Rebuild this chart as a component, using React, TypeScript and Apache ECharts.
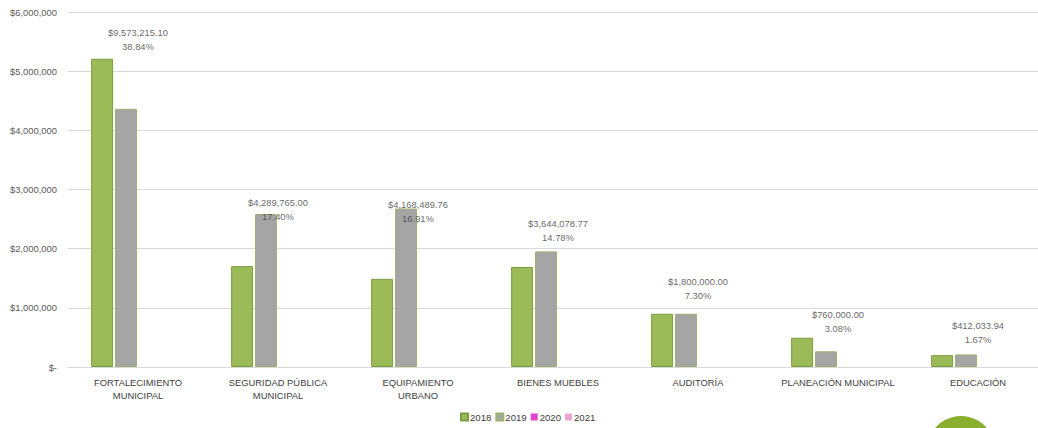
import React, { useEffect, useRef } from "react";
import * as echarts from "echarts";

const categories = [
  "FORTALECIMIENTO\nMUNICIPAL",
  "SEGURIDAD PÚBLICA\nMUNICIPAL",
  "EQUIPAMIENTO\nURBANO",
  "BIENES MUEBLES",
  "AUDITORÍA",
  "PLANEACIÓN MUNICIPAL",
  "EDUCACIÓN",
];
const years = ["2018", "2019", "2020", "2021"];
const values2018 = [5210000, 1705000, 1490000, 1690000, 900000, 495000, 200000];
const values2019 = [4363215.1, 2584765, 2678489.76, 1954078.77, 900000, 265000, 212033.94];
const values2020 = [0, 0, 0, 0, 0, 0, 0];
const values2021 = [0, 0, 0, 0, 0, 0, 0];
const totals = [9573215.1, 4289765.0, 4168489.76, 3644078.77, 1800000.0, 760000.0, 412033.94];
const percents = ["38.84%", "17.40%", "16.91%", "14.78%", "7.30%", "3.08%", "1.67%"];
const labelLevels = [5540000, 2670000, 2620000, 2315000, 1327000, 777000, 575000];
const yTicks = [0, 1000000, 2000000, 3000000, 4000000, 5000000, 6000000];

const colors = ["#9BBB59", "#A5A5A5", "#E046C8", "#E8A6D0"];
const borders = ["#7E9D42", "#9DB36E", "#C03AAA", "#C88AB0"];

export default function App() {
  const ref = useRef<HTMLDivElement>(null);
  useEffect(() => {
    if (!ref.current) return;
    const chart = echarts.init(ref.current, undefined, { renderer: "svg" });
    const seriesData = [values2018, values2019, values2020, values2021];
    const fmtMoney = (v: number) =>
      "$" + v.toLocaleString("en-US", { minimumFractionDigits: 2, maximumFractionDigits: 2 });
    chart.setOption({
      animation: false,
      textStyle: { fontFamily: "Liberation Sans, Arial, sans-serif" },
      grid: { left: 68, right: 12, top: 12, height: 355, containLabel: false },
      legend: {
        data: years,
        top: 412,
        left: 460,
        padding: 0,
        itemWidth: 7,
        itemHeight: 7,
        itemGap: 4,
        icon: "rect",
        textStyle: { fontSize: 9.6, color: "#404040", padding: [0, 0, 0, -3] },
      },
      xAxis: {
        type: "category",
        data: categories,
        axisLine: { show: true, lineStyle: { color: "#D9D9D9" } },
        axisTick: { show: false },
        axisLabel: { fontSize: 9.4, color: "#404040", margin: 9, lineHeight: 13, interval: 0 },
      },
      yAxis: {
        type: "value",
        min: yTicks[0],
        max: yTicks[yTicks.length - 1],
        interval: 1000000,
        axisLine: { show: false },
        axisTick: { show: false },
        splitLine: { lineStyle: { color: "#D9D9D9" } },
        axisLabel: {
          fontSize: 9.4,
          color: "#595959",
          margin: 11,
          formatter: (v: number) => (v === 0 ? "$-" : "$" + v.toLocaleString("en-US")),
        },
      },
      series: [
        ...years.map((y, i) => ({
          name: y,
          type: "bar",
          data: seriesData[i],
          barGap: "9%",
          barCategoryGap: "33%",
          itemStyle: {
            color: colors[i],
            borderColor: borders[i],
            borderWidth: i < 2 ? 1 : 0,
          },
        })),
        {
          name: "labels",
          type: "scatter",
          data: labelLevels,
          symbolSize: 0,
          silent: true,
          label: {
            show: true,
            position: "inside",
            fontSize: 9.4,
            lineHeight: 14,
            color: "#404040",
            formatter: (p: any) => fmtMoney(totals[p.dataIndex]) + "\n" + percents[p.dataIndex],
          },
        },
      ],
      graphic: [
        {
          type: "circle",
          shape: { cx: 961, cy: 450, r: 34 },
          style: { fill: "#8AAE2E" },
          z: 10,
        },
      ],
    });
    return () => chart.dispose();
  }, []);
  return (
    <div style={{ width: 1038, height: 428, position: "absolute", left: 0, top: 0, overflow: "hidden" }}>
      <div ref={ref} style={{ width: 1060, height: 428 }} />
    </div>
  );
}
